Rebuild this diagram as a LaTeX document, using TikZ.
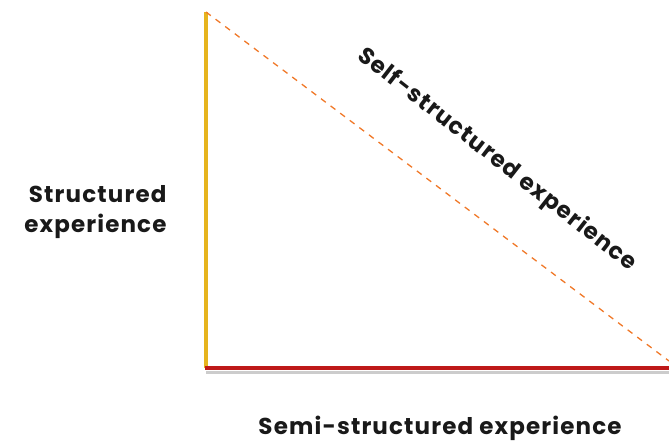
\documentclass[tikz,border=0pt]{standalone}
\usepackage{fontspec}
\setmainfont{Poppins}[LetterSpace=5]
\begin{document}
\begin{tikzpicture}[x=1pt, y=-1pt, every node/.style={font=\bfseries\fontsize{23}{30}\selectfont, text=black!90}]
	\useasboundingbox (0,0) rectangle (669,445);
	% 1. 角点
	\coordinate (top) at (206,12);
	\coordinate (origin) at (206,368);
	\coordinate (right) at (669,368);
	\coordinate (tip) at (669,361);
	
	% 2. 阴影与轴线
	\draw[black!20, line width=3pt] ([yshift=-4pt]origin) -- ([yshift=-4pt]right);
	\draw[color={rgb,255:red,230;green,180;blue,30}, line width=3.5pt] (top) -- (origin);
	\draw[color={rgb,255:red,190;green,25;blue,25}, line width=4.5pt] ([xshift=-1.5pt]origin) -- (right);
	
	% 3. 虚线
	\draw[dashed, color={rgb,255:red,240;green,120;blue,40}, line width=1.3pt, dash pattern=on 6pt off 6pt] (top) -- (tip);
	
	% 4. 文字
	\node[align=right, anchor=east] (structured) at (170,212) {Structured\\experience};
	\node[rotate=-38] (self) at (497,160) {Self-structured experience};
	\node (semi) at (440,428) {Semi-structured experience};
\end{tikzpicture}
\end{document}
